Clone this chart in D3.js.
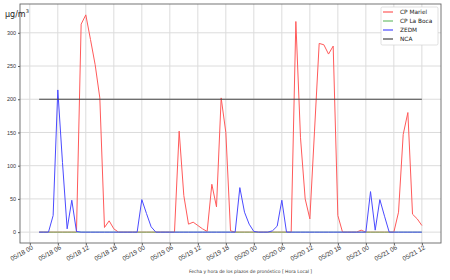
<!DOCTYPE html>
<html>
<head>
<meta charset="utf-8">
<script src="https://cdn.jsdelivr.net/npm/d3@7"></script>
<style>
  body { margin: 0; background: #fff; }
  svg { display: block; font-family: 'DejaVu Sans', sans-serif; }
  .grid line { stroke: #dcdcdc; stroke-width: 1; }
</style>
</head>
<body>
<svg width="450" height="280"></svg>
<script>
// first forecast hour, one value per hour after it
const startHour = Date.UTC(2023, 4, 18, 2);

const seriesNames = ['CP Mariel', 'CP La Boca', 'ZEDM', 'NCA'];
const seriesColors = ['#ff5a5a', '#6fbf6f', '#4b4bff', '#444444'];

const mariel = [
  0, 0, 0, 0, 0, 0, 0, 0, 0, 313, 327, 290, 252, 202, 7, 17, 5,
  0, 0, 0, 0, 0, 0, 0, 0, 0, 0, 0, 0, 0,
  152, 55, 12, 15, 10, 5, 1, 72, 38, 202, 150, 2,
  0, 0, 0, 0, 0, 0, 0, 0, 0, 0, 0, 0, 0,
  317, 142, 50, 20, 152, 284, 282, 268, 280, 25,
  0, 0, 0, 0, 3, 0, 0, 0, 0, 0, 0, 0,
  30, 147, 180, 27, 20, 10
];

const laBoca = [
  0, 0, 0, 0, 0, 0, 0, 0, 0, 0, 0, 0, 0, 0, 0, 0, 0,
  0, 0, 0, 0, 0, 0, 0, 0, 0, 0, 0, 0, 0,
  0, 0, 0, 0, 0, 0, 0, 0, 0, 0, 0, 0,
  0, 0, 0, 0, 0, 0, 0, 0, 0, 0, 0, 0, 0,
  0, 0, 0, 0, 0, 0, 0, 0, 0, 0,
  0, 0, 0, 0, 0, 0, 0, 0, 0, 0, 0, 0,
  0, 0, 0, 0, 0, 0
];

const zedm = [
  0, 0, 0, 25, 214, 105, 5, 48, 1,
  0, 0, 0, 0, 0, 0, 0, 0, 0, 0, 0, 0,
  0, 49, 28, 8, 0,
  0, 0, 0, 0, 0, 0, 0, 0, 0, 0, 0, 0, 0, 0, 0, 0, 0,
  67, 30, 12, 1, 0, 0, 0, 2, 9, 48, 0,
  0, 0, 0, 0, 0, 0, 0, 0, 0, 0, 0, 0, 0, 0, 0, 0, 0,
  61, 3, 49, 24, 0,
  0, 0, 0, 0, 0, 0, 0
];

const ncaLimit = 200;

const yTicks = [0, 50, 100, 150, 200, 250, 300];
const xTickLabelFormat = '%m/%d %H';

function whenLoaded() {
  const svg = d3.select('svg');
  const margin = {left: 20, right: 9, top: 4, bottom: 37};
  const width = 450 - margin.left - margin.right;
  const height = 280 - margin.top - margin.bottom;

  const times = mariel.map((d, i) => new Date(startHour + i * 3600e3));
  const series = [mariel, laBoca, zedm];

  // matplotlib style 5% padding
  const tExt = d3.extent(times);
  const tPad = (tExt[1] - tExt[0]) * 0.05;
  const x = d3.scaleUtc()
    .domain([new Date(+tExt[0] - tPad), new Date(+tExt[1] + tPad)])
    .range([0, width]);

  const yMax = d3.max(series, s => d3.max(s));
  const yPad = yMax * 0.05;
  const y = d3.scaleLinear()
    .domain([-yPad, yMax + yPad])
    .range([height, 0]);

  const g = svg.append('g')
    .attr('transform', `translate(${margin.left},${margin.top})`);

  const xTicks = x.ticks(d3.utcHour.every(6));

  // grid
  const grid = g.append('g').attr('class', 'grid');
  grid.selectAll('.gx').data(xTicks).enter().append('line')
    .attr('x1', d => x(d)).attr('x2', d => x(d))
    .attr('y1', 0).attr('y2', height);
  grid.selectAll('.gy').data(yTicks).enter().append('line')
    .attr('y1', d => y(d)).attr('y2', d => y(d))
    .attr('x1', 0).attr('x2', width);

  // y axis
  const yAxis = g.append('g')
    .call(d3.axisLeft(y).tickValues(yTicks).tickSize(2).tickPadding(2));
  yAxis.select('.domain').remove();
  yAxis.selectAll('line').attr('stroke', '#555');
  yAxis.selectAll('text')
    .attr('font-size', 5.4)
    .attr('fill', '#333');

  // x axis
  const fmt = d3.utcFormat(xTickLabelFormat);
  const xAxis = g.append('g')
    .attr('transform', `translate(0,${height})`)
    .call(d3.axisBottom(x).tickValues(xTicks).tickFormat(fmt).tickSize(2).tickPadding(2));
  xAxis.select('.domain').remove();
  xAxis.selectAll('line').attr('stroke', '#555');
  xAxis.selectAll('text')
    .attr('font-size', 6.4)
    .attr('fill', '#333')
    .attr('text-anchor', 'end')
    .attr('dy', '0.4em')
    .attr('transform', 'rotate(-30)');

  // lines
  const line = d3.line()
    .x((d, i) => x(times[i]))
    .y(d => y(d));

  series.forEach((s, k) => {
    g.append('path')
      .datum(s)
      .attr('fill', 'none')
      .attr('stroke', seriesColors[k])
      .attr('stroke-width', 1)
      .attr('d', line);
  });

  g.append('line')
    .attr('x1', x(tExt[0])).attr('x2', x(tExt[1]))
    .attr('y1', y(ncaLimit)).attr('y2', y(ncaLimit))
    .attr('stroke', seriesColors[3])
    .attr('stroke-width', 1);

  // frame
  g.append('rect')
    .attr('width', width).attr('height', height)
    .attr('fill', 'none')
    .attr('stroke', '#666')
    .attr('stroke-width', 0.9);

  // unit label
  const unit = svg.append('text')
    .attr('x', 5).attr('y', 17)
    .attr('font-size', 8)
    .attr('fill', '#222');
  unit.append('tspan').text('μg/m');
  unit.append('tspan').text('3').attr('font-size', 5).attr('dy', -4);

  // x label
  svg.append('text')
    .attr('x', margin.left + width / 2 + 20)
    .attr('y', 273)
    .attr('text-anchor', 'middle')
    .attr('font-size', 4.5)
    .attr('fill', '#333')
    .text('Fecha y hora de los plazos de pronóstico [ Hora Local ]');

  // legend
  const legend = g.append('g')
    .attr('transform', `translate(${width - 60},3)`);
  legend.append('rect')
    .attr('width', 57).attr('height', 38)
    .attr('rx', 1.5)
    .attr('fill', '#fff')
    .attr('stroke', '#ccc')
    .attr('stroke-width', 0.6);
  seriesNames.forEach((name, k) => {
    const row = legend.append('g').attr('transform', `translate(2,${5 + k * 9})`);
    row.append('line')
      .attr('x1', 0).attr('x2', 10)
      .attr('stroke', seriesColors[k])
      .attr('stroke-width', 1.2);
    row.append('text')
      .attr('x', 17).attr('dy', '0.35em')
      .attr('font-size', 5.8)
      .attr('fill', '#222')
      .text(name);
  });
}

window.onload = whenLoaded;
</script>
</body>
</html>
